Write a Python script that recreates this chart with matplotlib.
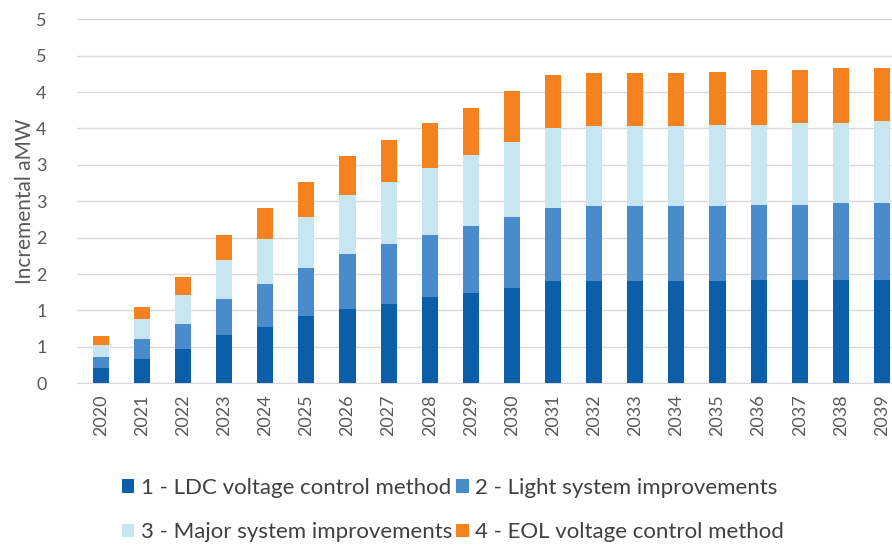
import numpy as np
import matplotlib
matplotlib.use("Agg")
from matplotlib import pyplot as plt
from matplotlib.ticker import MultipleLocator, FuncFormatter
import math

plt.rcParams['font.family'] = ['Lato', 'DejaVu Sans']

# data
years = [str(y) for y in range(2020, 2040)]
ldc = [0.21, 0.34, 0.47, 0.67, 0.78, 0.92, 1.02, 1.09, 1.18, 1.24,
       1.31, 1.40, 1.40, 1.40, 1.40, 1.40, 1.42, 1.42, 1.42, 1.42]
light = [0.15, 0.27, 0.35, 0.49, 0.59, 0.66, 0.75, 0.82, 0.86, 0.92,
         0.97, 1.01, 1.04, 1.04, 1.04, 1.04, 1.03, 1.03, 1.06, 1.06]
major = [0.17, 0.27, 0.39, 0.53, 0.61, 0.70, 0.82, 0.86, 0.92, 0.97,
         1.03, 1.10, 1.09, 1.09, 1.09, 1.11, 1.10, 1.12, 1.10, 1.12]
eol = [0.12, 0.17, 0.25, 0.35, 0.43, 0.48, 0.53, 0.57, 0.62, 0.65,
       0.71, 0.73, 0.73, 0.73, 0.73, 0.73, 0.75, 0.73, 0.75, 0.73]

names = ["1 - LDC voltage control method", "2 - Light system improvements",
         "3 - Major system improvements", "4 - EOL voltage control method"]
colors = ["#0B5EA8", "#4A8CCB", "#C7E6F1", "#F5821F"]

fig = plt.figure(figsize=(8.92, 5.45), dpi=100)
ax = fig.add_axes([77 / 892, 1 - 383.3 / 545, (892 - 77) / 892, 364 / 545])

x = np.arange(len(years))
bottom = np.zeros(len(years))
bars = []
for vals, name, c in zip([ldc, light, major, eol], names, colors):
    b = ax.bar(x, vals, width=0.39, bottom=bottom, color=c, label=name, zorder=3)
    bars.append(b)
    bottom += np.array(vals)

ax.set_xlim(-0.58, 19.245)
ax.set_ylim(0, 5)
ax.yaxis.set_major_locator(MultipleLocator(0.5))
# excel style rounding of the tick labels (0.5 -> 1)
ax.yaxis.set_major_formatter(FuncFormatter(lambda v, p: str(int(math.floor(v + 0.5)))))
ax.grid(axis='y', color='#d9d9d9', linewidth=1, zorder=0)
for s in ['top', 'right', 'left']:
    ax.spines[s].set_visible(False)
ax.spines['bottom'].set_color('#d9d9d9')
ax.tick_params(axis='both', length=0, colors='#595959', labelsize=13)
ax.tick_params(axis='y', pad=22)
ax.tick_params(axis='x', pad=8)
ax.set_xticks(x)
ax.set_xticklabels(years, rotation=90)
ax.set_ylabel("Incremental aMW", color='#595959', fontsize=15, labelpad=1)

h = [bars[0], bars[2], bars[1], bars[3]]
l = [names[0], names[2], names[1], names[3]]
fig.legend(h, l, ncol=2, loc='center', bbox_to_anchor=(453 / 892, 1 - 510 / 545),
           frameon=False, fontsize=16, handlelength=0.55, handleheight=0.55,
           handletextpad=0.3, columnspacing=0.2, labelspacing=1.1,
           labelcolor='#404040')

plt.savefig("out.png", dpi=100)
